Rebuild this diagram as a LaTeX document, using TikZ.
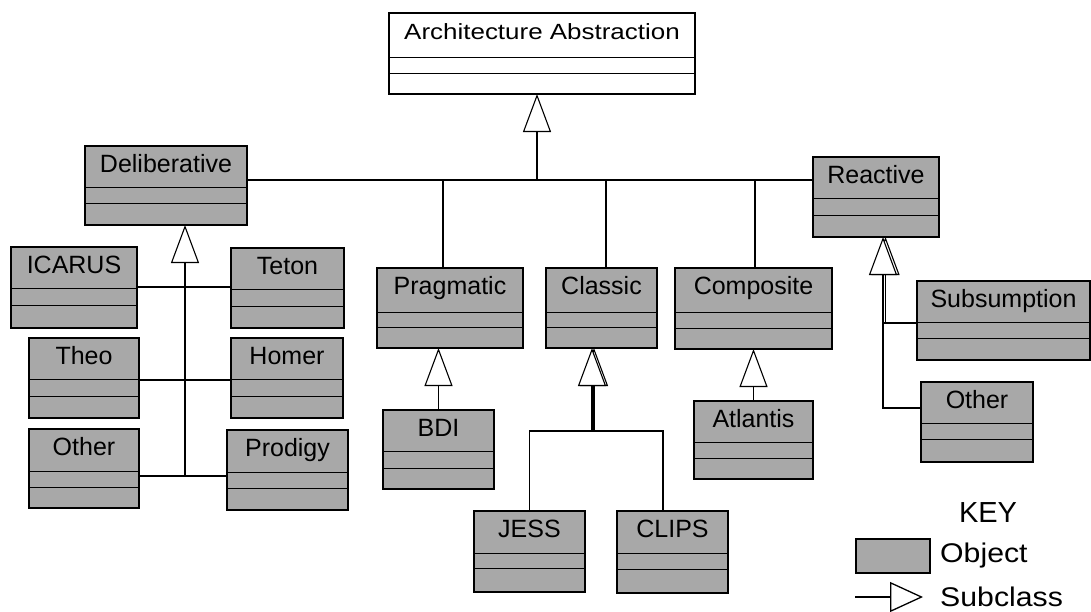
\documentclass[tikz,border=0pt]{standalone}
\usepackage{fontspec}
\usepackage{graphicx}
\setmainfont{Liberation Sans}
\usetikzlibrary{arrows.meta,calc}
\definecolor{objgray}{gray}{0.66}
\tikzset{
  objbox/.style={draw=black, line width=1.3pt, fill=objgray, inner sep=0pt, outer sep=0pt},
  absbox/.style={draw=black, line width=1.3pt, fill=white, inner sep=0pt, outer sep=0pt},
  divider/.style={line width=1pt},
  lbl/.style={font=\fontsize{25}{30}\selectfont, inner sep=0pt},
  conn/.style={line width=1.1pt},
  subcl/.style={line width=1.1pt, -{Triangle[length=38pt,width=28pt,fill=white]}},
}
% #1 style, #2 name, #3 x1, #4 y1, #5 x2, #6 y2, #7 divider 1, #8 divider 2, #9 label
\newcommand\clsbox[9][objbox]{%
  \node[#1, anchor=north west, minimum width={#5pt-#3pt}, minimum height={#6pt-#4pt}] (#2) at (#3,#4) {};
  \draw[divider] (#3,#7) -- (#5,#7) (#3,#8) -- (#5,#8);
  \node[lbl, anchor=base] (#2-t) at ({(#3+#5)/2},{#4+26}) {#9};
}
\begin{document}
\begin{tikzpicture}[x=1pt,y=-1pt]
\useasboundingbox (0,0) rectangle (1091,611);
% boxes
\clsbox[absbox]{arch}{389}{13}{695}{94}{57}{73}{\fontsize{22}{26}\selectfont\scalebox{1.18}[1]{Architecture Abstraction}}
\clsbox{delib}{85}{146}{247}{225}{187}{203}{Deliberative}
\clsbox{icarus}{11}{247}{137}{328}{288}{305}{ICARUS}
\clsbox{teton}{231}{248}{344}{328}{289}{306}{Teton}
\clsbox{theo}{29}{338}{139}{418}{379}{396}{Theo}
\clsbox{homer}{231}{338}{343}{418}{379}{396}{Homer}
\clsbox{otherA}{29}{429}{139}{508}{471}{487}{Other}
\clsbox{prodigy}{227}{430}{348}{510}{472}{488}{Prodigy}
\clsbox{prag}{377}{268}{523}{348}{312}{327}{Pragmatic}
\clsbox{classic}{546}{268}{657}{348}{312}{327}{Classic}
\clsbox{comp}{675}{268}{832}{349}{312}{328}{Composite}
\clsbox{bdi}{383}{410}{494}{489}{451}{468}{BDI}
\clsbox{jess}{474}{511}{585}{592}{553}{568}{JESS}
\clsbox{clips}{617}{511}{728}{593}{553}{569}{CLIPS}
\clsbox{atl}{694}{401}{813}{479}{442}{458}{Atlantis}
\clsbox{react}{813}{157}{939}{237}{198}{215}{Reactive}
\clsbox{subs}{917}{281}{1090}{360}{322}{338}{Subsumption}
\clsbox{otherB}{921}{382}{1033}{462}{423}{439}{Other}

% top bus
\coordinate (bus) at (537,180);
\draw[subcl] (bus) -- (arch.south -| bus);
\draw[conn] (delib.east |- bus) -- (react.west |- bus);
\draw[conn] ([xshift=-7pt]prag.north) -- ([xshift=-7pt]prag.north |- bus);
\draw[conn] ([xshift=4.5pt]classic.north) -- ([xshift=4.5pt]classic.north |- bus);
\draw[conn] ([xshift=1.5pt]comp.north) -- ([xshift=1.5pt]comp.north |- bus);

% deliberative subclasses
\coordinate (dr1) at (185,287);
\coordinate (dr2) at (185,380);
\coordinate (dj) at (185,476);
\draw[subcl] (dj) -- (delib.south -| dj);
\draw[conn] (icarus.east |- dr1) -- (teton.west |- dr1);
\draw[conn] (theo.east |- dr2) -- (homer.west |- dr2);
\draw[conn] (otherA.east |- dj) -- (prodigy.west |- dj);

% pragmatic
\draw[subcl] (bdi.north) -- (bdi.north |- prag.south);

% classic (doubled)
\coordinate (cj) at (592,431);
\draw[subcl] ([xshift=2pt]cj) -- ([xshift=2pt]cj |- classic.south);
\draw[subcl] (cj) -- (cj |- classic.south);
\draw[conn] (jess.north) |- (cj) -| ([xshift=-9.5pt]clips.north);

% composite
\draw[subcl] (atl.north) -- (atl.north |- comp.south);

% reactive (doubled)
\coordinate (sj) at (883,323);
\coordinate (rj) at (883,408);
\draw[subcl] ([xshift=2.5pt]sj) -- ([xshift=2.5pt]sj |- react.south);
\draw[subcl] (otherB.west |- rj) -- (rj) -- (rj |- react.south);
\draw[conn] (subs.west |- sj) -- (sj);

% key
\node[font=\fontsize{29}{34}\selectfont, inner sep=0pt] (keyt) at (988,513) {KEY};
\node[objbox, anchor=north west, minimum width=74pt, minimum height=34pt] (keyobj) at (856,539) {};
\node[font=\fontsize{27}{32}\selectfont, inner sep=0pt, anchor=west] (keyobjt) at (940,556) {\scalebox{1.12}[1]{Object}};
\coordinate (ka) at (855,597);
\coordinate (kb) at (923,597);
\draw[line width=1.3pt, -{Triangle[length=33pt,width=30pt,fill=white]}] (ka) -- (kb);
\node[font=\fontsize{27}{32}\selectfont, inner sep=0pt, anchor=west] (keysubt) at (940,597) {\scalebox{1.12}[1]{Subclass}};
\end{tikzpicture}
\end{document}
